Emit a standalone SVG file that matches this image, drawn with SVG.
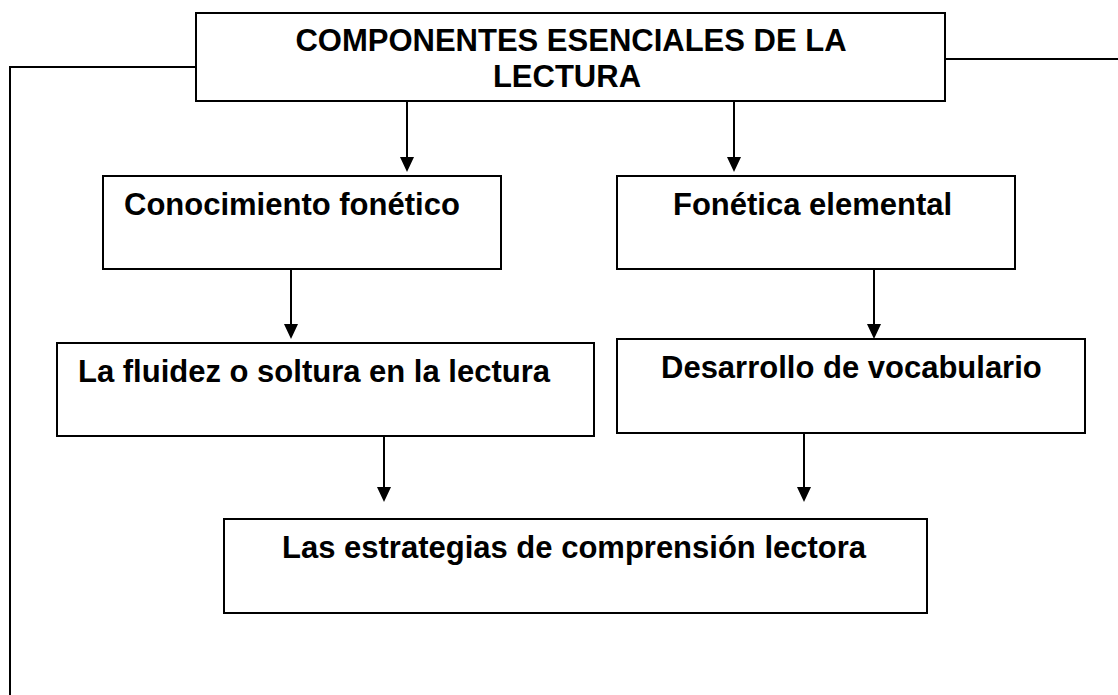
<svg xmlns="http://www.w3.org/2000/svg" width="1118" height="695" viewBox="0 0 1118 695">
  <style>
    .box { fill: #ffffff; stroke: #000000; stroke-width: 2; }
    .lbl { font-family: "Liberation Sans", Arial, sans-serif; font-weight: bold; font-size: 31px; fill: #000000; }
    .conn { fill: none; stroke: #000000; stroke-width: 2; }
  </style>
  <defs>
    <marker id="arrow" markerUnits="userSpaceOnUse" markerWidth="15" markerHeight="14" refX="0" refY="7" orient="auto">
      <path d="M0,0 L15,7 L0,14 z" fill="#000000"/>
    </marker>
    <linearGradient id="fade" x1="0" y1="0" x2="1" y2="0">
      <stop offset="0" stop-color="#dddddd"/>
      <stop offset="1" stop-color="#111111"/>
    </linearGradient>
  </defs>
  <rect width="1118" height="695" fill="#ffffff"/>

  <g id="connectors">
    <polyline class="conn" points="196,67 10,67 10,695"/>
    <line class="conn" x1="945" y1="59" x2="1118" y2="59"/>
    <line x1="862" y1="693" x2="1118" y2="693" stroke="url(#fade)" stroke-width="2"/>
    <line class="conn" x1="407" y1="102" x2="407" y2="157" marker-end="url(#arrow)"/>
    <line class="conn" x1="734" y1="102" x2="734" y2="157" marker-end="url(#arrow)"/>
    <line class="conn" x1="291" y1="269" x2="291" y2="324" marker-end="url(#arrow)"/>
    <line class="conn" x1="874" y1="269" x2="874" y2="324" marker-end="url(#arrow)"/>
    <line class="conn" x1="384" y1="432" x2="384" y2="487" marker-end="url(#arrow)"/>
    <line class="conn" x1="804" y1="433" x2="804" y2="487" marker-end="url(#arrow)"/>
  </g>

  <g id="node-title">
    <rect class="box" x="196" y="13" width="749" height="88"/>
    <text class="lbl" x="571" y="51" text-anchor="middle">COMPONENTES ESENCIALES DE LA</text>
    <text class="lbl" x="567" y="87" text-anchor="middle">LECTURA</text>
  </g>

  <g id="node-conocimiento">
    <rect class="box" x="103" y="176" width="398" height="93"/>
    <text class="lbl" x="124" y="215">Conocimiento fonético</text>
  </g>

  <g id="node-fonetica">
    <rect class="box" x="617" y="176" width="398" height="93"/>
    <text class="lbl" x="673" y="215">Fonética elemental</text>
  </g>

  <g id="node-fluidez">
    <rect class="box" x="57" y="343" width="537" height="93"/>
    <text class="lbl" x="78" y="382">La fluidez o soltura en la lectura</text>
  </g>

  <g id="node-vocabulario">
    <rect class="box" x="617" y="339" width="468" height="94"/>
    <text class="lbl" x="661" y="378">Desarrollo de vocabulario</text>
  </g>

  <g id="node-estrategias">
    <rect class="box" x="224" y="519" width="703" height="94"/>
    <text class="lbl" x="282" y="558">Las estrategias de comprensión lectora</text>
  </g>
</svg>
